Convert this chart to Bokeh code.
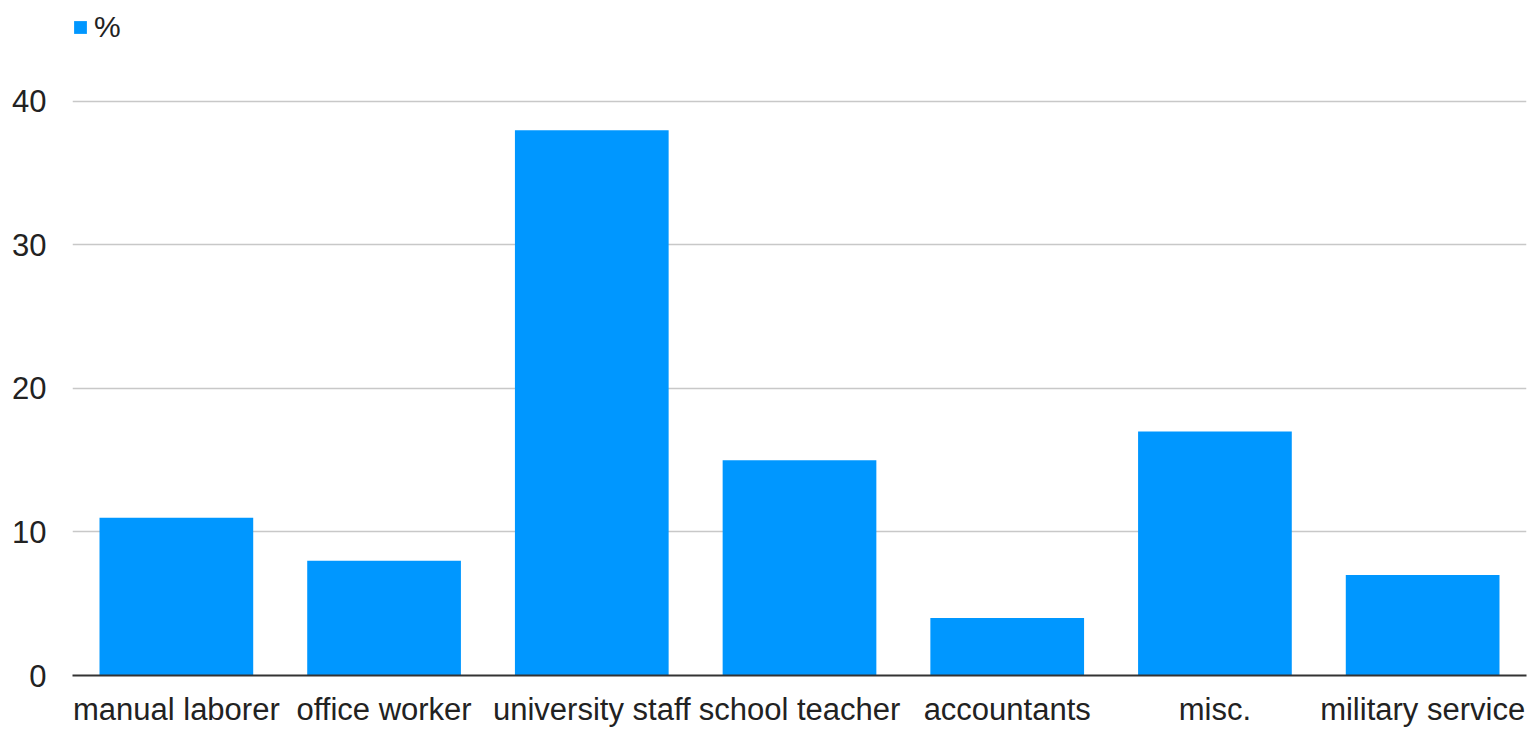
from bokeh.plotting import figure
from bokeh.models import ColumnDataSource, FixedTicker, Legend, LegendItem, Range1d
from bokeh.embed import file_html
from bokeh.resources import INLINE

categories = ["manual laborer", "office worker", "university staff", "school teacher",
              "accountants", "misc.", "military service"]
percent = [11, 8, 38, 15, 4, 17, 7]
y_ticks = [0, 10, 20, 30, 40]
series_name = "%"

FONT = "Liberation Sans"
BAR = "#0097ff"

src = ColumnDataSource(dict(cat=categories, val=percent))

p = figure(x_range=categories, y_range=Range1d(0, 46.34),
           width=1539, height=729,
           output_backend="svg", toolbar_location=None,
           min_border_left=72, min_border_right=13, min_border_top=10, min_border_bottom=54)

r = p.vbar(x="cat", top="val", width=0.74, source=src, fill_color=BAR, line_color=None)

p.outline_line_color = None
p.background_fill_color = "white"
p.xgrid.grid_line_color = None
p.ygrid.grid_line_color = "#c8c8c8"
p.ygrid.grid_line_width = 1.5
p.ygrid.ticker = FixedTicker(ticks=y_ticks[1:])

p.yaxis.ticker = FixedTicker(ticks=y_ticks)
p.yaxis.axis_line_color = None
p.yaxis.major_tick_line_color = None
p.yaxis.minor_tick_line_color = None
p.yaxis.major_tick_out = 0
p.yaxis.major_label_standoff = 26
p.yaxis.major_label_text_font = FONT
p.yaxis.major_label_text_font_size = "31px"
p.yaxis.major_label_text_color = "#222222"

p.xaxis.axis_line_color = "#333333"
p.xaxis.axis_line_width = 2
p.xaxis.major_tick_line_color = None
p.xaxis.major_tick_out = 0
p.xaxis.major_label_standoff = 16
p.xaxis.major_label_text_font = FONT
p.xaxis.major_label_text_font_size = "31px"
p.xaxis.major_label_text_line_height = 1.0
p.xaxis.major_label_text_color = "#222222"

legend = Legend(items=[LegendItem(label=series_name, renderers=[r])],
                location="top_left", orientation="vertical",
                glyph_width=16, glyph_height=16, label_standoff=6, label_height=20,
                label_text_font=FONT, label_text_font_size="30px", label_text_color="#222222",
                label_text_line_height=1.0,
                padding=3, margin=0, border_line_color=None, background_fill_alpha=0)
p.add_layout(legend, "center")

open("out.html", "w").write(file_html(p, INLINE))
